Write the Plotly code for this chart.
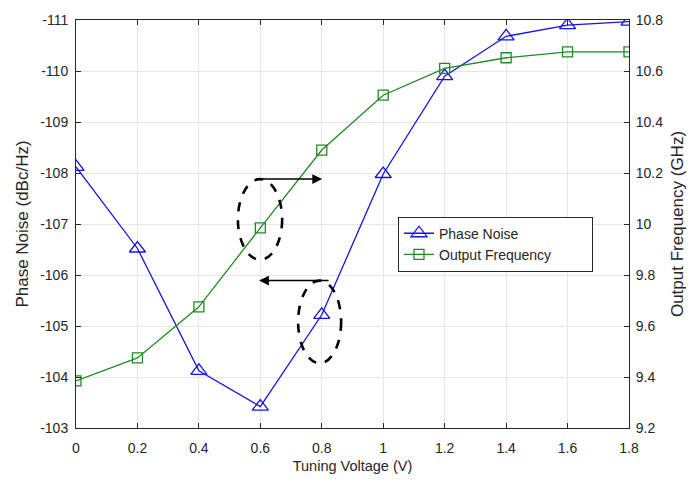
import plotly.graph_objects as go

voltage = [0, 0.2, 0.4, 0.6, 0.8, 1.0, 1.2, 1.4, 1.6, 1.8]
phase_noise = [-108.12, -106.52, -104.12, -103.42, -105.22, -107.98, -109.9, -110.68, -110.9, -110.97]
out_freq = [9.385, 9.475, 9.675, 9.985, 10.29, 10.505, 10.61, 10.652, 10.675, 10.675]

left_ticks = [-111, -110, -109, -108, -107, -106, -105, -104, -103]
right_ticks = [9.2, 9.4, 9.6, 9.8, 10, 10.2, 10.4, 10.6, 10.8]
x_ticks = [0, 0.2, 0.4, 0.6, 0.8, 1, 1.2, 1.4, 1.6, 1.8]

BLUE = "#1414e6"
GREEN = "#1e8c1e"
FONT = "Liberation Sans, Arial, sans-serif"
TXT = "#262626"
PAD = "\u00a0" * 9

fig = go.Figure()
fig.add_trace(go.Scatter(
    x=voltage, y=phase_noise, name="Phase Noise", mode="lines+markers",
    line=dict(color=BLUE, width=1.3),
    marker=dict(symbol="triangle-up-open", size=14, color=BLUE, line=dict(width=1.3)),
    yaxis="y"))
fig.add_trace(go.Scatter(
    x=voltage, y=out_freq, name="Output Frequency" + PAD, mode="lines+markers",
    line=dict(color=GREEN, width=1.3),
    marker=dict(symbol="square-open", size=10, color=GREEN, line=dict(width=1.3)),
    yaxis="y2"))

# dashed ellipses (annotation marks)
ell = [
    (0.527, 0.671, -107.88, -106.30),
    (0.723, 0.863, -105.89, -104.27),
]
for x0, x1, y0, y1 in ell:
    fig.add_shape(type="circle", xref="x", yref="y", x0=x0, x1=x1, y0=y0, y1=y1,
                  line=dict(color="black", width=2.6, dash="dash"))

# arrows
fig.add_annotation(x=0.801, y=-107.88, ax=0.589, ay=-107.88, xref="x", yref="y",
                   axref="x", ayref="y", showarrow=True, arrowhead=2, arrowsize=1.3,
                   arrowwidth=1.5, arrowcolor="black", text="")
fig.add_annotation(x=0.596, y=-105.89, ax=0.827, ay=-105.89, xref="x", yref="y",
                   axref="x", ayref="y", showarrow=True, arrowhead=2, arrowsize=1.3,
                   arrowwidth=1.5, arrowcolor="black", text="")

axis_common = dict(showline=True, linecolor="#262626", linewidth=1, ticks="inside",
                   ticklen=5, tickcolor="#262626", zeroline=False,
                   tickfont=dict(family=FONT, size=14, color=TXT))
xtitle_font = dict(family=FONT, size=14.5, color=TXT)
ytitle_font = dict(family=FONT, size=17, color=TXT)

fig.update_layout(
    width=696, height=484,
    margin=dict(l=76, r=67, t=13, b=56),
    paper_bgcolor="white", plot_bgcolor="white",
    font=dict(family=FONT, color=TXT),
    xaxis=dict(range=[0, 1.8], tickvals=x_ticks, ticktext=[f"{v:g}" for v in x_ticks],
               showgrid=True, gridcolor="#e6e6e6", mirror="ticks", ticklabelstandoff=7,
               title=dict(text="Tuning Voltage (V)", font=xtitle_font, standoff=6),
               **axis_common),
    yaxis=dict(range=[-103, -111], tickvals=left_ticks, ticktext=[f"{v:g}" for v in left_ticks],
               showgrid=True, gridcolor="#e6e6e6", ticklabelstandoff=4,
               title=dict(text="Phase Noise (dBc/Hz)", font=ytitle_font, standoff=7),
               **axis_common),
    yaxis2=dict(range=[9.2, 10.8], tickvals=right_ticks, ticktext=[f"{v:g}" for v in right_ticks],
                overlaying="y", side="right", showgrid=False, ticklabelstandoff=3,
                title=dict(text="Output Frequency (GHz)", font=ytitle_font, standoff=8),
                **axis_common),
    legend=dict(x=(398 - 76) / 553, y=1 - (213 - 13) / 415, xanchor="left", yanchor="top",
                bgcolor="white", bordercolor="#262626", borderwidth=1,
                font=dict(family=FONT, size=14, color=TXT), tracegroupgap=0),
    showlegend=True,
)

fig.write_html("out.html")
